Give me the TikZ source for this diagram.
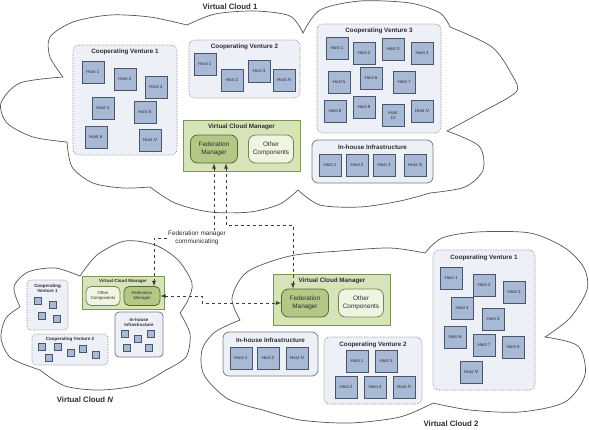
\documentclass[tikz,border=0pt]{standalone}
\usepackage{fontspec}
\setmainfont{Liberation Sans}
\definecolor{hostfill}{RGB}{168,185,214}
\definecolor{hostline}{RGB}{75,85,105}
\definecolor{ventfill}{RGB}{237,240,247}
\definecolor{ventline}{RGB}{140,140,150}
\definecolor{ihline}{RGB}{120,125,135}
\definecolor{vcmfill}{RGB}{215,228,183}
\definecolor{vcmline}{RGB}{125,150,85}
\definecolor{fmfill}{RGB}{178,200,132}
\definecolor{fmline}{RGB}{85,105,55}
\definecolor{othfill}{RGB}{240,245,226}
\definecolor{othline}{RGB}{115,135,85}
\definecolor{txtgray}{RGB}{45,45,50}
\definecolor{linkgray}{RGB}{60,60,60}
\definecolor{cloudgray}{RGB}{85,85,85}
\begin{document}
\begin{tikzpicture}[x=1pt, y=-1pt, every node/.style={text=txtgray},
  cloudline/.style={draw=cloudgray, fill=white, line width=0.7pt},
  host/.style={draw=hostline, fill=hostfill, line width=0.8pt, minimum size=22pt, inner sep=0pt, align=center, font=\fontsize{4.5}{5}\selectfont},
  minihost/.style={draw=hostline, fill=hostfill, line width=0.6pt, minimum size=7pt, inner sep=0pt},
  venture/.style={draw=ventline, fill=ventfill, line width=0.6pt, dash pattern=on 0.7pt off 0.9pt, rounded corners=6pt, inner sep=0pt},
  inhouse/.style={draw=ihline, fill=ventfill, line width=0.8pt, rounded corners=6pt, inner sep=0pt},
  vcm/.style={draw=vcmline, fill=vcmfill, line width=0.8pt, inner sep=0pt},
  fedm/.style={draw=fmline, fill=fmfill, line width=0.8pt, rounded corners=7pt, align=center, inner sep=0pt, minimum width=47pt, minimum height=28pt, font=\fontsize{6.4}{7.6}\selectfont},
  other/.style={draw=othline, fill=othfill, line width=0.8pt, rounded corners=7pt, align=center, inner sep=0pt, minimum width=45pt, minimum height=28pt, font=\fontsize{6.4}{7.6}\selectfont},
  boxtitle/.style={font=\bfseries\fontsize{6.3}{7}\selectfont, inner sep=0pt},
  smalltitle/.style={font=\bfseries\fontsize{4.5}{5.2}\selectfont, align=center, inner sep=0pt},
  cloudtitle/.style={font=\bfseries\fontsize{7.8}{9}\selectfont, inner sep=0pt},
  link/.style={dashed, draw=linkgray, line width=0.8pt, >=latex}]
\useasboundingbox (0,0) rectangle (589,429);

% Virtual Cloud 1
\draw[cloudline] plot[smooth] coordinates {(63,77) (50,57) (50,37) (73,22) (110,15) (150,17) (187,25)}
  -- plot[smooth] coordinates {(187,25) (215,14) (255,11) (290,16) (303,33)}
  -- plot[smooth] coordinates {(303,33) (320,10) (360,1) (410,3) (440,13) (450,27)}
  -- plot[smooth] coordinates {(450,27) (492,47) (512,75) (516,92) (480,113) (447,131)}
  -- plot[smooth] coordinates {(447,131) (479,146) (483,170) (465,187) (430,193)}
  -- plot[smooth] coordinates {(430,193) (400,201) (360,207) (320,205) (298,190)}
  -- plot[smooth] coordinates {(298,190) (280,204) (250,212) (210,212) (175,203) (150,187)}
  -- plot[smooth] coordinates {(150,187) (123,188) (93,183) (72,167) (67,142)}
  -- plot[smooth] coordinates {(67,142) (33,137) (7,123) (1,103) (20,83) (63,77)} -- cycle;
% Virtual Cloud 2
\draw[cloudline] plot[smooth] coordinates {(240,320) (232,298) (247,272) (290,256) (340,251) (390,248) (425,253)}
  -- plot[smooth] coordinates {(425,253) (442,238) (477,232) (530,233) (565,248) (584,268) (587,290) (570,318) (545,337)}
  -- plot[smooth] coordinates {(545,337) (578,346) (585,375) (565,402) (520,412) (470,410) (433,403)}
  -- plot[smooth] coordinates {(433,403) (400,417) (350,423) (300,420) (263,410)}
  -- plot[smooth] coordinates {(263,410) (228,399) (204,375) (202,350) (215,332) (240,320)} -- cycle;
% Virtual Cloud N
\draw[cloudline] plot[smooth] coordinates {(20,307) (14,287) (28,272) (55,268) (80,276)}
  -- plot[smooth] coordinates {(80,276) (97,255) (125,241) (155,245) (178,260) (192,283) (188,300) (180,313)}
  -- plot[smooth] coordinates {(180,313) (190,334) (186,357) (166,370)}
  -- plot[smooth] coordinates {(166,370) (138,385) (100,390) (65,386) (40,370)}
  -- plot[smooth] coordinates {(40,370) (11,358) (1,338) (6,318) (20,307)} -- cycle;

\node[cloudtitle] (c1title) at (230,7) {Virtual Cloud 1};
\node[cloudtitle] (c2title) at (451,424) {Virtual Cloud 2};
\node[cloudtitle] (cntitle) at (85,400) {Virtual Cloud \textit{N}};

% cloud 1
\node[venture, minimum width=104pt, minimum height=110pt] (c1v1) at (125,100) {};
\node[boxtitle] (c1v1t) at (125,52) {Cooperating Venture 1};
\node[host] (c1v1h1) at (93,72) {Host 1};
\node[host] (c1v1h2) at (125,79) {Host 2};
\node[host] (c1v1h3) at (156,87) {Host 3};
\node[host] (c1v1h4) at (103,108) {Host 4};
\node[host] (c1v1h5) at (145,112) {Host 5};
\node[host] (c1v1h6) at (96,137) {Host 6};
\node[host] (c1v1hn) at (150,140) {Host \textit{N}};

\node[venture, minimum width=111pt, minimum height=58pt] (c1v2) at (244.5,69) {};
\node[boxtitle] (c1v2t) at (244.5,47) {Cooperating Venture 2};
\node[host] (c1v2h1) at (205,64) {Host 1};
\node[host] (c1v2h2) at (232,80) {Host 2};
\node[host] (c1v2h3) at (259,71) {Host 3};
\node[host] (c1v2hn) at (284,80) {Host \textit{N}};

\node[venture, minimum width=124pt, minimum height=109pt] (c1v3) at (379,78.5) {};
\node[boxtitle] (c1v3t) at (379,31) {Cooperating Venture 3};
\node[host] (c1v3h1) at (337,48) {Host 1};
\node[host] (c1v3h2) at (364,53) {Host 2};
\node[host] (c1v3h3) at (393,49) {Host 3};
\node[host] (c1v3h4) at (422,53) {Host 4};
\node[host] (c1v3h5) at (339,82) {Host 5};
\node[host] (c1v3h6) at (371,78) {Host 6};
\node[host] (c1v3h7) at (404,82) {Host 7};
\node[host] (c1v3h8) at (335,111) {Host 8};
\node[host] (c1v3h9) at (364,107) {Host 9};
\node[host] (c1v3h10) at (393,115) {Host\\10};
\node[host] (c1v3hn) at (422,111) {Host \textit{N}};

\node[inhouse, minimum width=121pt, minimum height=43pt] (c1ih) at (372.5,161.5) {};
\node[boxtitle] (c1iht) at (372.5,147) {In-house Infrastructure};
\node[host] (c1ihh1) at (330,165) {Host 1};
\node[host] (c1ihh2) at (357,165) {Host 2};
\node[host] (c1ihh3) at (384,165) {Host 3};
\node[host] (c1ihhn) at (415,165) {Host \textit{N}};

\node[vcm, minimum width=117pt, minimum height=51pt] (c1vcm) at (241.5,145.5) {};
\node[boxtitle] (c1vcmt) at (241.5,127) {Virtual Cloud Manager};
\node[fedm] (c1fm) at (214,149) {Federation\\Manager};
\node[other] (c1oc) at (271,149) {Other\\Components};

% cloud 2
\node[vcm, minimum width=117pt, minimum height=51pt] (c2vcm) at (331.5,299.5) {};
\node[boxtitle] (c2vcmt) at (332,281) {Virtual Cloud Manager};
\node[fedm] (c2fm) at (305,303) {Federation\\Manager};
\node[other] (c2oc) at (361,303) {Other\\Components};

\node[inhouse, minimum width=95pt, minimum height=44pt] (c2ih) at (270.5,354) {};
\node[boxtitle] (c2iht) at (270.5,340) {In-house Infrastructure};
\node[host] (c2ihh1) at (241,358) {Host 1};
\node[host] (c2ihh2) at (268,358) {Host 2};
\node[host] (c2ihhn) at (297,358) {Host \textit{N}};

\node[venture, minimum width=98pt, minimum height=67pt] (c2v2) at (373,370.5) {};
\node[boxtitle] (c2v2t) at (373,345) {Cooperating Venture 2};
\node[host] (c2v2h1) at (357,361) {Host 1};
\node[host] (c2v2h3) at (386,361) {Host 3};
\node[host] (c2v2h2) at (346,387) {Host 2};
\node[host] (c2v2h4) at (375,387) {Host 4};
\node[host] (c2v2hn) at (404,387) {Host \textit{N}};

\node[venture, minimum width=102pt, minimum height=140pt] (c2v1) at (484,320) {};
\node[boxtitle] (c2v1t) at (484,258) {Cooperating Venture 1};
\node[host] (c2v1h1) at (451,278) {Host 1};
\node[host] (c2v1h2) at (484,285) {Host 2};
\node[host] (c2v1h3) at (514,292) {Host 3};
\node[host] (c2v1h4) at (462,308) {Host 4};
\node[host] (c2v1h5) at (493,319) {Host 5};
\node[host] (c2v1h6) at (455,337) {Host 6};
\node[host] (c2v1h7) at (484,345) {Host 7};
\node[host] (c2v1h8) at (513,347) {Host 8};
\node[host] (c2v1hn) at (471,372) {Host \textit{N}};

% cloud N
\node[vcm, minimum width=82pt, minimum height=33pt] (cnvcm) at (123,292.5) {};
\node[smalltitle] (cnvcmt) at (123,281.5) {Virtual Cloud Manager};
\node[other, minimum width=34pt, minimum height=19pt, rounded corners=5pt, font=\fontsize{4.3}{5}\selectfont] (cnoc) at (103,296) {Other\\Components};
\node[fedm, minimum width=36pt, minimum height=19pt, rounded corners=5pt, font=\fontsize{4.3}{5}\selectfont] (cnfm) at (142,296) {Federation\\Manager};

\node[venture, minimum width=41pt, minimum height=50pt, rounded corners=4pt] (cnv1) at (47.5,305) {};
\node[smalltitle] (cnv1t) at (47.5,288) {Cooperating\\Venture 1};
\node[minihost] (cnv1h1) at (38,301) {};
\node[minihost] (cnv1h2) at (53,305) {};
\node[minihost] (cnv1h3) at (42,316) {};
\node[minihost] (cnv1h4) at (57,319) {};

\node[venture, minimum width=76pt, minimum height=31pt, rounded corners=4pt] (cnv2) at (70,349.5) {};
\node[smalltitle] (cnv2t) at (70,339) {Cooperating Venture 2};
\node[minihost] (cnv2h1) at (42,347) {};
\node[minihost] (cnv2h2) at (58,347) {};
\node[minihost] (cnv2h3) at (49,358) {};
\node[minihost] (cnv2h4) at (71,353) {};
\node[minihost] (cnv2h5) at (83,349) {};
\node[minihost] (cnv2h6) at (96,355) {};

\node[inhouse, minimum width=48pt, minimum height=45pt, rounded corners=4pt] (cnih) at (139,334.5) {};
\node[smalltitle] (cniht) at (139,322) {In-house\\Infrastructure};
\node[minihost] (cnihh1) at (125,334) {};
\node[minihost] (cnihh2) at (138,339) {};
\node[minihost] (cnihh3) at (151,334) {};
\node[minihost] (cnihh4) at (127,348) {};
\node[minihost] (cnihh5) at (149,348) {};

% federation managers
\node[font=\fontsize{6.4}{7.6}\selectfont, align=center, fill=white, inner sep=1pt] (fmcomm) at (197,238) {Federation manager\\communicating};
\draw[link, <-] (c1fm.south) -- (c1fm.south |- fmcomm.north);
\draw[link, ->] (fmcomm.west) -| ([xshift=12pt]cnfm.north);
\draw[link, <->] ([xshift=12pt]c1fm.south) -- ++(0,62) -| ([xshift=-12pt]c2fm.north);
\draw[link, <->] (cnfm.east) -- ++(42,0) |- (c2fm.west);
\end{tikzpicture}
\end{document}
